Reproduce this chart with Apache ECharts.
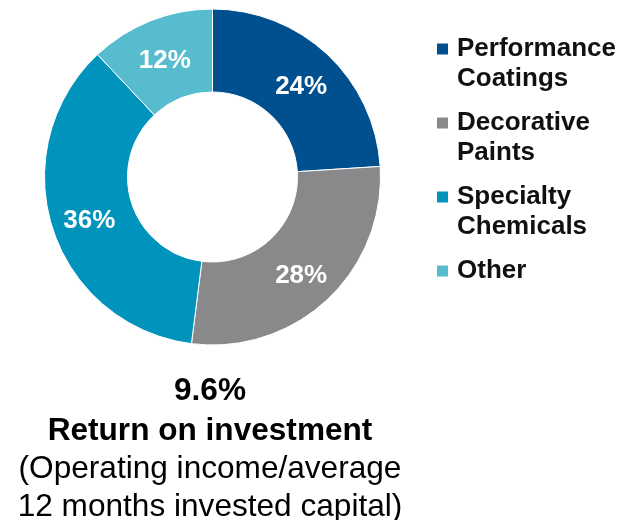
<!DOCTYPE html>
<html>
<head>
<meta charset="utf-8">
<script src="https://cdn.jsdelivr.net/npm/echarts@6/dist/echarts.min.js"></script>
<style>
  html, body { margin: 0; padding: 0; background: #fff; }
  #main { width: 623px; height: 520px; }
</style>
</head>
<body>
<div id="main"></div>
<script>
var categories = ['Performance Coatings', 'Decorative Paints', 'Specialty Chemicals', 'Other'];
var legendLabels = ['Performance\nCoatings', 'Decorative\nPaints', 'Specialty\nChemicals', 'Other\n '];
var values = [24, 28, 36, 12];
var colors = ['#00508F', '#89898B', '#0093BC', '#57BDCE'];
var roiValue = '9.6%';
var roiTitle = 'Return on investment';
var roiNote = '(Operating income/average\n12 months invested capital)';

var chartDom = document.getElementById('main');
var myChart = echarts.init(chartDom);

// legend marker: square at top of a tall box so it lines up with the first text line
var markerPath = 'path://M0,0L15,0M0,9.5h11v11h-11zM0,60L15,60';
var font = 'Liberation Sans, Arial, sans-serif';

var option = {
    color: colors,
    textStyle: { fontFamily: font },
    title: [
        {
            left: 210, top: 373, textAlign: 'center', padding: 0,
            text: roiValue,
            textStyle: { fontSize: 31.6, fontWeight: 'bold', color: '#000', lineHeight: 37.5, fontFamily: font }
        },
        {
            left: 210, top: 413, textAlign: 'center', padding: 0,
            text: roiTitle,
            textStyle: { fontSize: 31.6, fontWeight: 'bold', color: '#000', lineHeight: 37.5, fontFamily: font }
        },
        {
            left: 210, top: 451, textAlign: 'center', padding: 0,
            text: roiNote,
            textStyle: { fontSize: 31.6, fontWeight: 'normal', color: '#000', lineHeight: 37.5, fontFamily: font }
        }
    ],
    legend: {
        orient: 'vertical',
        left: 437,
        top: 34,
        padding: 0,
        itemWidth: 15,
        itemHeight: 60,
        itemGap: 14,
        icon: markerPath,
        itemStyle: { borderWidth: 0 },
        formatter: function (name) {
            return legendLabels[categories.indexOf(name)];
        },
        textStyle: {
            fontSize: 26, fontWeight: 'bold', color: '#111', lineHeight: 30, fontFamily: font
        },
        data: categories
    },
    series: [
        {
            type: 'pie',
            center: [212.5, 177],
            radius: [85, 168],
            startAngle: 90,
            clockwise: true,
            avoidLabelOverlap: false,
            itemStyle: { borderColor: '#fff', borderWidth: 1 },
            label: {
                show: true,
                position: 'inside',
                formatter: '{c}%',
                color: '#fff',
                fontSize: 26,
                fontWeight: 'bold',
                fontFamily: font,
                offset: [0, 4]
            },
            labelLine: { show: false },
            emphasis: { disabled: true },
            data: categories.map(function (c, i) {
                return { name: c, value: values[i] };
            })
        }
    ]
};

option && myChart.setOption(option);
</script>
</body>
</html>
